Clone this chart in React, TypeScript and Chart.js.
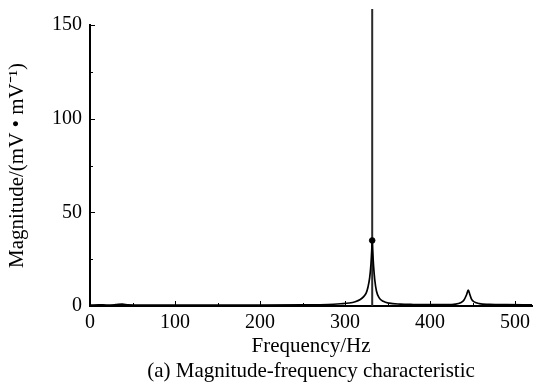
import React, { useEffect, useRef } from "react";
import { Chart, registerables } from "chart.js";

Chart.register(...registerables);

// Frequency (Hz) and magnitude (mV·mV^-1) of the response curve
const freq: number[] = [0, 10, 20, 30, 38, 45, 60, 100, 150, 200, 250, 280, 295, 305, 312, 318, 322, 325, 327, 329, 330.5, 331.5, 332, 332.5, 333.5, 335, 337, 340, 345, 352, 365, 380, 400, 420, 430, 436, 440, 443, 445, 447, 449, 452, 458, 470, 490, 520];
const magnitude: number[] = [0.5, 0.6, 0.5, 0.7, 1.0, 0.6, 0.5, 0.5, 0.5, 0.5, 0.6, 0.8, 1.2, 1.6, 2.3, 3.5, 5, 7, 10, 15, 22, 30, 35, 30, 22, 14, 8, 4.5, 2.5, 1.5, 1.0, 0.8, 0.7, 0.7, 1.0, 1.8, 3.2, 6, 8.5, 6, 3.5, 2.2, 1.3, 0.9, 0.7, 0.6];

// Resonance spike line
const spikeFreq: number[] = [332, 332];
const spikeMag: number[] = [0, 158.6];

// Marked peak point
const markerFreq: number[] = [332];
const markerMag: number[] = [35];

const xTicks: number[] = [0, 100, 200, 300, 400, 500];
const xMinorTicks: number[] = [50, 150, 250, 350, 450];
const yTicks: number[] = [0, 50, 100, 150];
const yMinorTicks: number[] = [25, 75, 125];

const X_MIN = 0;
const X_MAX = 520;
const Y_MIN = 0;
const Y_MAX = 150;

const FONT = "'Liberation Serif', 'Times New Roman', serif";

const innerTicks = {
  id: "innerTicks",
  afterDatasetsDraw(chart: any) {
    const { ctx, chartArea, scales } = chart;
    const xs = scales.x;
    const ys = scales.y;
    ctx.save();
    ctx.strokeStyle = "#000";
    ctx.lineWidth = 1;
    const drawX = (v: number, len: number) => {
      const px = Math.round(xs.getPixelForValue(v)) + 0.5;
      ctx.beginPath();
      ctx.moveTo(px, chartArea.bottom);
      ctx.lineTo(px, chartArea.bottom - len);
      ctx.stroke();
    };
    const drawY = (v: number, len: number) => {
      const py = Math.round(ys.getPixelForValue(v)) + 0.5;
      ctx.beginPath();
      ctx.moveTo(chartArea.left, py);
      ctx.lineTo(chartArea.left + len, py);
      ctx.stroke();
    };
    xTicks.forEach((v) => drawX(v, 5));
    xMinorTicks.forEach((v) => drawX(v, 3));
    yTicks.forEach((v) => drawY(v, 5));
    yMinorTicks.forEach((v) => drawY(v, 3));
    ctx.restore();
  },
};

const whiteBg = {
  id: "whiteBg",
  beforeDraw(chart: any) {
    const { ctx, width, height } = chart;
    ctx.save();
    ctx.fillStyle = "#ffffff";
    ctx.fillRect(0, 0, width, height);
    ctx.restore();
  },
};

export default function App() {
  const ref = useRef<HTMLCanvasElement | null>(null);

  useEffect(() => {
    if (!ref.current) return;
    const chart = new Chart(ref.current, {
      type: "line",
      data: {
        datasets: [
          {
            label: "spike",
            data: spikeFreq.map((x, i) => ({ x, y: spikeMag[i] })),
            borderColor: "#2a2a2a",
            borderWidth: 2,
            pointRadius: 0,
            clip: false as any,
            order: 2,
          },
          {
            label: "magnitude",
            data: freq.map((x, i) => ({ x, y: magnitude[i] })),
            borderColor: "#000",
            borderWidth: 1.7,
            pointRadius: 0,
            cubicInterpolationMode: "monotone",
            order: 1,
          },
          {
            label: "marker",
            data: markerFreq.map((x, i) => ({ x, y: markerMag[i] })),
            borderColor: "#000",
            backgroundColor: "#000",
            showLine: false,
            pointRadius: 2.8,
            order: 0,
          },
        ],
      },
      options: {
        responsive: false,
        animation: false,
        layout: { padding: { top: 25, right: 5, left: 0, bottom: 0 } },
        plugins: {
          legend: { display: false },
          tooltip: { enabled: false },
        },
        scales: {
          x: {
            type: "linear",
            min: X_MIN,
            max: X_MAX,
            afterBuildTicks: (s: any) => {
              s.ticks = xTicks.map((v) => ({ value: v }));
            },
            afterFit: (s: any) => {
              s.height = 78;
            },
            grid: { display: false, drawTicks: false },
            border: { display: true, color: "#000", width: 2 },
            ticks: {
              color: "#000",
              font: { family: FONT, size: 20 },
              padding: 5,
              maxRotation: 0,
            },
            title: {
              display: true,
              text: ["Frequency/Hz", "(a) Magnitude-frequency characteristic"],
              color: "#000",
              font: { family: FONT, size: 21, lineHeight: 1.2 },
              padding: { top: 0, bottom: 0 },
            },
          },
          y: {
            type: "linear",
            min: Y_MIN,
            max: Y_MAX,
            afterBuildTicks: (s: any) => {
              s.ticks = yTicks.map((v) => ({ value: v }));
            },
            afterFit: (s: any) => {
              s.width = 90;
            },
            grid: { display: false, drawTicks: false },
            border: { display: true, color: "#000", width: 2 },
            ticks: {
              color: "#000",
              font: { family: FONT, size: 20 },
              padding: 8,
            },
            title: {
              display: true,
              text: "Magnitude/(mV • mV⁻¹)",
              color: "#000",
              font: { family: FONT, size: 21, lineHeight: 1.2 },
              padding: { top: 5, bottom: 0 },
            },
          },
        },
      },
      plugins: [whiteBg, innerTicks],
    });
    return () => chart.destroy();
  }, []);

  return (
    <div style={{ position: "fixed", left: 0, top: 0, width: 537, height: 384, background: "#fff" }}>
      <canvas ref={ref} width={537} height={384} style={{ display: "block" }} />
    </div>
  );
}
